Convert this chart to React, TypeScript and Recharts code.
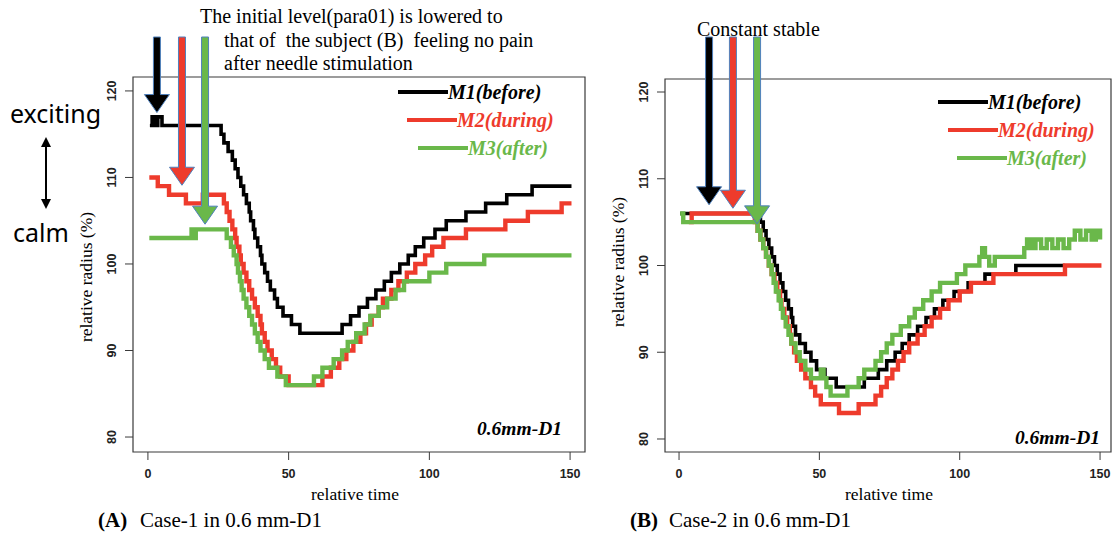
import { Legend, Line, LineChart, ReferenceArea, ReferenceDot, XAxis, YAxis } from 'recharts'

const SERIF = '"Liberation Serif", "Times New Roman", Times, serif'
const SANS = '"Liberation Sans", Arial, sans-serif'
const C = {
  black: '#000000',
  red: '#ee3b2c',
  green: '#6ab84a',
  box: '#3a3a3a',
  arrowEdge: '#4f81bd',
}

const xTicks = [0, 50, 100, 150]
const yTicks = [80, 90, 100, 110, 120]
const seriesNames = ['M1(before)', 'M2(during)', 'M3(after)']
const seriesColors = [C.black, C.red, C.green]

// [relative time, relative radius %] - level changes
const m1A = [
  [0.7, 116], [1.5, 117], [2.5, 116], [3.5, 117], [5, 116], [26, 115], [27, 114], [28.5, 113],
  [30, 112], [31, 111], [32, 110], [33, 109], [34, 108], [35, 107], [36, 106], [36.5, 105],
  [37.5, 104], [38, 103], [39, 102], [40, 101], [40.5, 100], [41.5, 99], [42.5, 98], [43.5, 97],
  [45, 96], [46, 95], [48, 94], [51, 93], [54, 92], [69, 93], [72, 94], [75, 95], [78, 96],
  [81, 97], [84, 98], [86.5, 99], [89.5, 100], [92.5, 101], [95, 102], [98, 103], [102, 104],
  [106, 105], [113, 106], [120, 107], [127.5, 108], [136.5, 109], [150.5, 109],
]
const m2A = [
  [0.5, 110], [3.5, 109], [7.5, 108], [13.5, 107], [19.5, 108], [27, 107], [28, 106], [29, 105],
  [30, 104], [31, 103], [31.5, 102], [32.5, 101], [33, 100], [34, 99], [35, 98], [36, 97],
  [37, 96], [38, 95], [39, 94], [40, 93], [40.5, 92], [41.5, 91], [42.5, 90], [44, 89],
  [45.5, 88], [47, 87], [50, 86], [62, 87], [65, 88], [68, 89], [70.5, 90], [73, 91], [75.5, 92],
  [77.5, 93], [79.5, 94], [82, 95], [83.5, 96], [86.5, 97], [89, 98], [92, 99], [95, 100],
  [98.5, 101], [101, 102], [105, 103], [113, 104], [127, 105], [135, 106], [147, 107], [150.5, 107],
]
const m3A = [
  [0.5, 103], [15.5, 104], [16.3, 103], [17, 104], [28, 103], [29.5, 102], [30.5, 101], [31.5, 100],
  [32, 99], [32.7, 98], [33.3, 97], [34, 96], [35, 95], [36, 94], [37, 93], [38, 92], [39, 91],
  [40, 90], [41.5, 89], [43, 88], [46, 87], [49, 86], [59, 87], [62, 88], [66, 89], [69, 90],
  [71, 91], [74, 92], [77, 93], [79, 94], [82, 95], [85, 96], [88, 97], [91, 98], [100, 99],
  [106, 100], [119.5, 101], [150.5, 101],
]

const m1B = [
  [0.4, 106], [29, 105], [30, 104], [31, 103], [32, 102], [33, 101], [34, 100], [35, 99], [36, 98],
  [37, 97], [38, 96], [39, 95], [40, 94], [40.5, 93], [41.5, 92], [43, 91], [45, 90], [47, 89],
  [49, 88], [52, 87], [56, 86], [66, 87], [71, 88], [74, 89], [77, 90], [79.5, 91], [82, 92],
  [85, 93], [88, 94], [91, 95], [94, 96], [98, 97], [103, 98], [109, 99], [120, 100], [137.5, 100],
]
const m2B = [
  [3.5, 105], [4.5, 106], [27, 105], [28, 104], [29, 103], [30, 102], [31, 101], [32, 100],
  [33, 99], [34, 98], [35, 97], [36, 96], [36.5, 95], [37.5, 94], [38.5, 93], [39.5, 92], [40, 91],
  [41, 90], [42, 89], [43.5, 88], [45, 87], [47, 86], [48.5, 85], [50.5, 84], [57, 83], [64, 84],
  [70, 85], [72, 86], [74, 87], [76, 88], [78, 89], [80, 90], [82, 91], [85, 92], [87.5, 93],
  [90, 94], [93, 95], [96, 96], [100, 97], [104, 98], [112, 99], [137.5, 100], [150.5, 100],
]
const m3B = [
  [0.4, 106], [1.5, 105], [28, 104], [29, 103], [30, 102], [31, 101], [32, 100], [33, 99],
  [33.7, 98], [34.5, 97], [35.5, 96], [36.3, 95], [37, 94], [38, 93], [39, 92], [40, 91],
  [41.5, 90], [43, 89], [45, 88], [47, 87], [50.5, 88], [51.5, 87], [52.5, 86], [54, 85], [60, 86],
  [64, 87], [66, 88], [70, 89], [72, 90], [74, 91], [76, 92], [79, 93], [82, 94], [84, 95],
  [87, 96], [90, 97], [93, 98], [99, 99], [102, 100], [107, 101], [108, 102], [109, 101],
  [110.5, 100], [112.5, 101], [123, 102], [124, 103], [125.5, 102], [127, 103], [129, 102],
  [131, 103], [133, 102], [135, 103], [137, 102], [139, 103], [141, 104], [143, 103], [145, 104],
  [147, 103], [148.5, 104], [150, 103],
]

// arrow tips, in data units
const arrowsA = [[3.2, 117.5], [12.1, 109.1], [20.3, 104.6]]
const arrowsB = [[10.7, 107], [19.2, 106.6], [27.8, 104.8]]

const pts = (a: number[][]) => a.map(([x, v]) => ({ x, v }))

function XTick({ x, y, payload }: any) {
  return (
    <text x={x} y={y + 16} textAnchor="middle" fontFamily={SANS} fontWeight={700} fontSize={12.5} fill="#222">
      {payload.value}
    </text>
  )
}

function YTick({ x, y, payload }: any) {
  const cx = x - 11
  return (
    <text
      x={cx}
      y={y}
      transform={`rotate(-90 ${cx} ${y})`}
      textAnchor="middle"
      dominantBaseline="central"
      fontFamily={SANS}
      fontWeight={700}
      fontSize={12.5}
      fill="#222"
    >
      {payload.value}
    </text>
  )
}

function DownArrow({ cx, cy, color }: any) {
  const top = 37
  const hh = 18
  const hw = 12.5
  const sw = 3.5
  const p = [
    [cx - sw, top], [cx + sw, top], [cx + sw, cy - hh], [cx + hw, cy - hh],
    [cx, cy], [cx - hw, cy - hh], [cx - sw, cy - hh],
  ]
  return <polygon points={p.map((q) => q.join(',')).join(' ')} fill={color} stroke={C.arrowEdge} strokeWidth={1} />
}

function LegendRows({ payload, offsets }: any) {
  return (
    <div>
      {(payload || []).map((e: any, i: number) => (
        <div key={e.value} style={{ display: 'flex', alignItems: 'center', height: 28, paddingLeft: offsets[i] }}>
          <div style={{ width: 50, height: 4, background: e.color }} />
          <span
            style={{
              fontFamily: SERIF,
              fontStyle: 'italic',
              fontWeight: 700,
              fontSize: 20,
              color: e.color,
              whiteSpace: 'nowrap',
            }}
          >
            {e.value}
          </span>
        </div>
      ))}
    </div>
  )
}

function Panel({
  left,
  width,
  margin,
  xDomain,
  yDomain,
  series,
  arrows,
  legendAt,
  legendOffsets,
}: {
  left: number
  width: number
  margin: { top: number; right: number; bottom: number; left: number }
  xDomain: [number, number]
  yDomain: [number, number]
  series: number[][][]
  arrows: number[][]
  legendAt: { left: number; top: number }
  legendOffsets: number[]
}) {
  return (
    <div style={{ position: 'absolute', left, top: 0 }}>
      <LineChart width={width} height={537} margin={margin}>
        <XAxis
          dataKey="x"
          type="number"
          domain={xDomain}
          allowDataOverflow
          ticks={xTicks}
          interval={0}
          axisLine={false}
          tickSize={8}
          tickLine={{ stroke: C.box }}
          tick={XTick}
          height={30}
        />
        <YAxis
          type="number"
          domain={yDomain}
          allowDataOverflow
          ticks={yTicks}
          interval={0}
          axisLine={false}
          tickSize={8}
          tickLine={{ stroke: C.box }}
          tick={YTick}
          width={30}
        />
        <ReferenceArea
          x1={xDomain[0]}
          x2={xDomain[1]}
          y1={yDomain[0]}
          y2={yDomain[1]}
          fill="none"
          stroke={C.box}
          strokeWidth={1.2}
          ifOverflow="visible"
        />
        <Legend
          layout="vertical"
          align="center"
          verticalAlign="middle"
          wrapperStyle={{ left: legendAt.left, top: legendAt.top, width: 220 }}
          content={(p: any) => <LegendRows payload={p.payload} offsets={legendOffsets} />}
        />
        {series.map((s, i) => (
          <Line
            key={seriesNames[i]}
            data={pts(s)}
            dataKey="v"
            name={seriesNames[i]}
            type="stepAfter"
            stroke={seriesColors[i]}
            strokeWidth={i === 0 ? 3.6 : 4.4}
            dot={false}
            isAnimationActive={false}
          />
        ))}
        {arrows.map(([x, v], i) => (
          <ReferenceDot
            key={i}
            x={x}
            y={v}
            r={1}
            ifOverflow="visible"
            shape={(p: any) => <DownArrow cx={p.cx} cy={p.cy} color={seriesColors[i]} />}
          />
        ))}
      </LineChart>
    </div>
  )
}

function SerifText(props: any) {
  const { children, ...rest } = props
  return (
    <text fontFamily={SERIF} fill="#000" xmlSpace="preserve" style={{ whiteSpace: 'pre', fontFamily: SERIF }} {...rest}>
      {children}
    </text>
  )
}

export default function App() {
  return (
    <div style={{ position: 'absolute', left: 0, top: 0, width: 1116, height: 537, background: '#fff' }}>
      <Panel
        left={0}
        width={600}
        margin={{ top: 77, right: 15, bottom: 55, left: 103 }}
        xDomain={[-5.3, 155.3]}
        yDomain={[78.27, 121.61]}
        series={[m1A, m2A, m3A]}
        arrows={arrowsA}
        legendAt={{ left: 398, top: 78 }}
        legendOffsets={[0, 9, 20]}
      />
      <Panel
        left={560}
        width={556}
        margin={{ top: 79, right: 5, bottom: 55, left: 75 }}
        xDomain={[-5, 153.9]}
        yDomain={[78.5, 121.5]}
        series={[m1B, m2B, m3B]}
        arrows={arrowsB}
        legendAt={{ left: 378, top: 88 }}
        legendOffsets={[0, 10, 19]}
      />
      <svg width={1116} height={537} style={{ position: 'absolute', left: 0, top: 0, pointerEvents: 'none' }}>
        <defs>
          <marker id="ah" viewBox="0 0 10 10" refX="5" refY="5" markerWidth="5" markerHeight="5" orient="auto-start-reverse">
            <path d="M0,0 L10,5 L0,10 z" fill="#000" />
          </marker>
        </defs>
        <SerifText x={200} y={23} fontSize={20}>The initial level(para01) is lowered to</SerifText>
        <SerifText x={224} y={47} fontSize={20}>that of  the subject (B)  feeling no pain</SerifText>
        <SerifText x={224} y={70} fontSize={20}>after needle stimulation</SerifText>
        <SerifText x={697} y={36} fontSize={20}>Constant stable</SerifText>
        <text x={10} y={123} fontFamily='"Noto Sans", sans-serif' fontSize={25}>exciting</text>
        <text x={13} y={242} fontFamily='"Noto Sans", sans-serif' fontSize={25}>calm</text>
        <line x1={46} y1={142} x2={46} y2={204} stroke="#000" strokeWidth={2} markerStart="url(#ah)" markerEnd="url(#ah)" />
        <SerifText x={86} y={277} fontSize={17.5} textAnchor="middle" dominantBaseline="central" transform="rotate(-90 86 277)">
          relative radius (%)
        </SerifText>
        <SerifText x={618} y={262} fontSize={17.5} textAnchor="middle" dominantBaseline="central" transform="rotate(-90 618 262)">
          relative radius (%)
        </SerifText>
        <SerifText x={355} y={500} fontSize={17.5} textAnchor="middle">relative time</SerifText>
        <SerifText x={889} y={500} fontSize={17.5} textAnchor="middle">relative time</SerifText>
        <SerifText x={562} y={435} fontSize={19.5} fontStyle="italic" fontWeight={700} textAnchor="end">0.6mm-D1</SerifText>
        <SerifText x={1100} y={444} fontSize={19.5} fontStyle="italic" fontWeight={700} textAnchor="end">0.6mm-D1</SerifText>
        <SerifText x={98} y={527} fontSize={21} fontWeight={700}>(A)</SerifText>
        <SerifText x={140} y={527} fontSize={21}>Case-1 in 0.6 mm-D1</SerifText>
        <SerifText x={630} y={527} fontSize={21} fontWeight={700}>(B)</SerifText>
        <SerifText x={669} y={527} fontSize={21}>Case-2 in 0.6 mm-D1</SerifText>
      </svg>
    </div>
  )
}
